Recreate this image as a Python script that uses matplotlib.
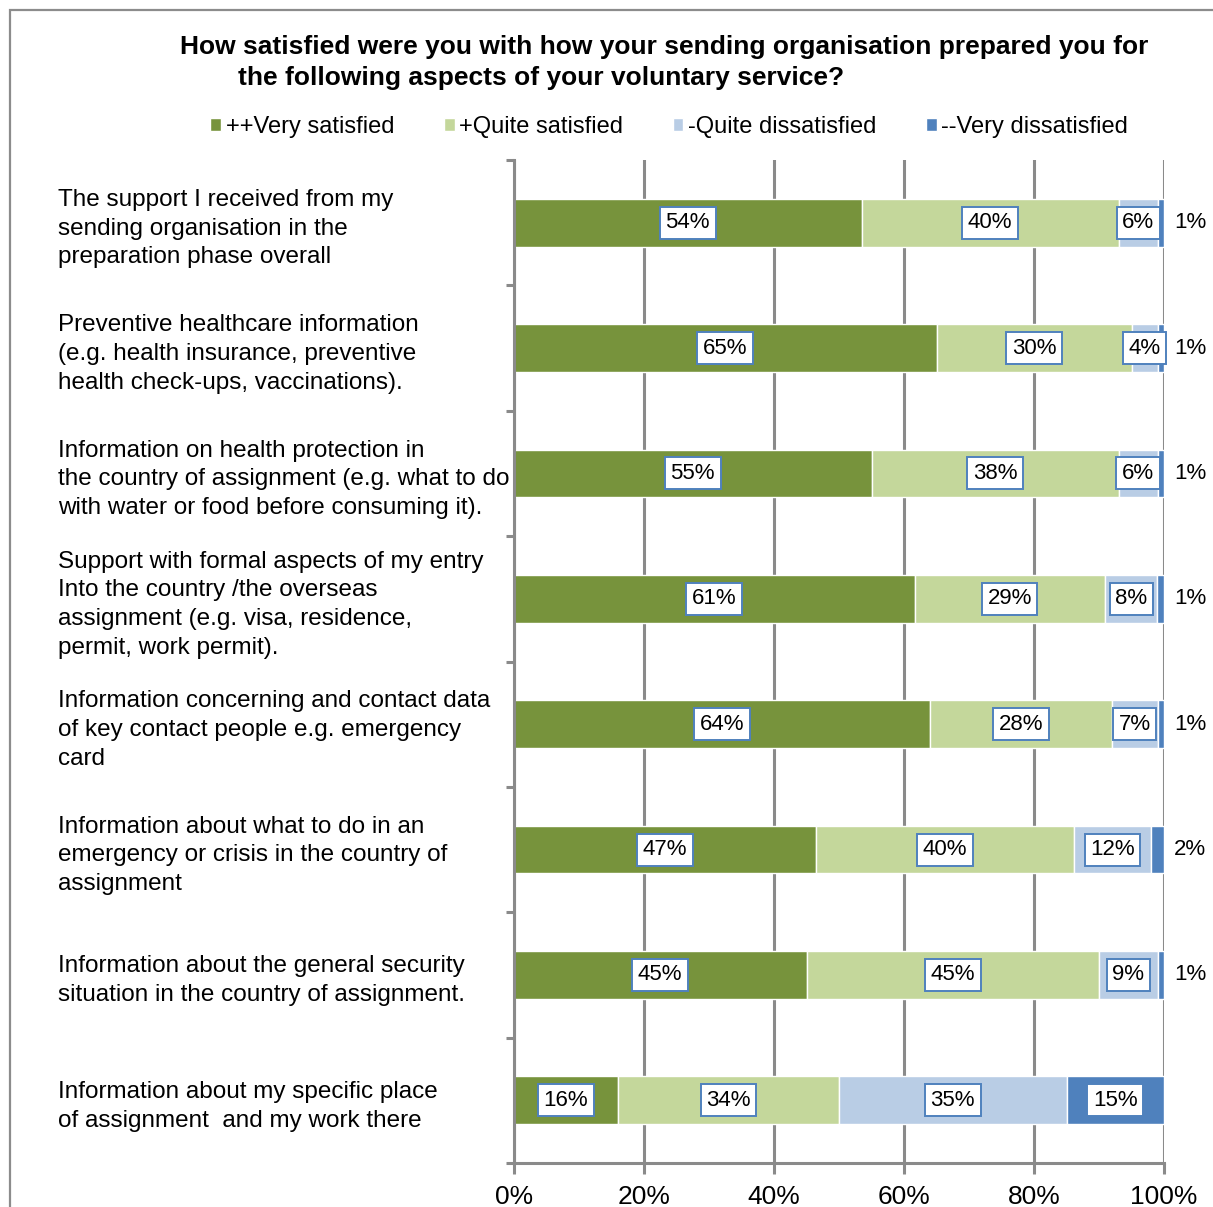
import matplotlib
matplotlib.use("Agg")
import matplotlib.pyplot as plt
import numpy as np
from matplotlib.patches import Rectangle

plt.rcParams["font.family"] = ["Liberation Sans", "DejaVu Sans"]

# ---------------------------------------------------------------------------
# Survey data (percent of respondents per answer)
# ---------------------------------------------------------------------------

categories = [
    "The support I received from my\nsending organisation in the\npreparation phase overall",
    "Preventive healthcare information\n(e.g. health insurance, preventive\nhealth check-ups, vaccinations).",
    "Information on health protection in\nthe country of assignment (e.g. what to do\nwith water or food before consuming it).",
    "Support with formal aspects of my entry\nInto the country /the overseas\nassignment (e.g. visa, residence,\npermit, work permit).",
    "Information concerning and contact data\nof key contact people e.g. emergency\ncard",
    "Information about what to do in an\nemergency or crisis in the country of\nassignment",
    "Information about the general security\nsituation in the country of assignment.",
    "Information about my specific place\nof assignment  and my work there",
]

series_names = [
    "++Very satisfied",
    "+Quite satisfied",
    "-Quite dissatisfied",
    "--Very dissatisfied",
]

very_satisfied = [54, 65, 55, 61, 64, 47, 45, 16]
quite_satisfied = [40, 30, 38, 29, 28, 40, 45, 34]
quite_dissatisfied = [6, 4, 6, 8, 7, 12, 9, 35]
very_dissatisfied = [1, 1, 1, 1, 1, 2, 1, 15]

x_ticks = [0, 20, 40, 60, 80, 100]
x_tick_labels = ["0%", "20%", "40%", "60%", "80%", "100%"]

colors = ["#77933C", "#C4D79B", "#B9CDE5", "#4F81BD"]
grid_color = "#8A8A8A"
box_edge = "#4F81BD"

# ---------------------------------------------------------------------------
# Figure
# ---------------------------------------------------------------------------

W, H = 1213, 1207
fig = plt.figure(figsize=(W / 100, H / 100), dpi=100)

# chart frame (runs off the right and bottom edge)
fig.patches.append(
    Rectangle((10 / W, -0.05), 1.2, 1 - 10 / H + 0.05,
              transform=fig.transFigure, facecolor="none",
              edgecolor="#8C8C8C", linewidth=1.6)
)

ax = fig.add_axes([514 / W, 1 - 1163 / H, 650 / W, (1163 - 160) / H])
ax.set_facecolor("none")

values = np.array([very_satisfied, quite_satisfied,
                   quite_dissatisfied, very_dissatisfied], dtype=float)
shares = values / values.sum(axis=0) * 100  # 100% stacked
y = np.arange(len(categories))

left = np.zeros(len(categories))
handles = []
for s, (name, col) in enumerate(zip(series_names, colors)):
    bars = ax.barh(y, shares[s], left=left, height=0.38, color=col,
                   edgecolor="white", linewidth=1.0, zorder=3, label=name)
    handles.append(bars)
    for i in range(len(categories)):
        val = int(values[s, i])
        if val >= 4:
            ax.text(left[i] + shares[s, i] / 2, y[i], f"{val}%",
                    ha="center", va="center", fontsize=16, zorder=5,
                    bbox=dict(boxstyle="square,pad=0.25", facecolor="white",
                              edgecolor=box_edge, linewidth=1.4))
        else:
            ax.text(101.5, y[i], f"{val}%", ha="left", va="center",
                    fontsize=16, zorder=5, clip_on=False)
    left += shares[s]

ax.set_xlim(0, 100)
ax.set_ylim(len(categories) - 0.5, -0.5)

ax.set_xticks(x_ticks)
ax.set_xticklabels(x_tick_labels, fontsize=19)
ax.tick_params(axis="x", length=8, width=2.2, color=grid_color, pad=8)

ax.set_yticks(y)
ax.set_yticklabels(categories, fontsize=17.5, ha="left", linespacing=1.4)
ax.tick_params(axis="y", which="major", length=0, pad=456 * 0.72)
ax.set_yticks(np.arange(-0.5, len(categories), 1.0), minor=True)
ax.tick_params(axis="y", which="minor", length=6, width=2.2, color=grid_color)

ax.grid(True, axis="x", color=grid_color, linewidth=2.2, zorder=0)
ax.grid(False, axis="y")
for side in ("top", "right"):
    ax.spines[side].set_visible(False)
for side in ("left", "bottom"):
    ax.spines[side].set_color(grid_color)
    ax.spines[side].set_linewidth(2.2)
    ax.spines[side].set_zorder(4)

# title, two lines as laid out in the report
fig.text(180 / W, 1 - 47 / H,
         "How satisfied were you with how your sending organisation prepared you for",
         ha="left", va="center", fontsize=19, fontweight="bold")
fig.text(238 / W, 1 - 78 / H,
         "the following aspects of your voluntary service?",
         ha="left", va="center", fontsize=19, fontweight="bold")

fig.legend(handles=handles, labels=series_names, ncol=4,
           loc="center left", bbox_to_anchor=(201 / W, 1 - 127 / H),
           frameon=False, fontsize=17, handlelength=0.45, handleheight=0.45,
           handletextpad=0.2, columnspacing=2.1, borderaxespad=0)

fig.savefig("out.png", dpi=100)
